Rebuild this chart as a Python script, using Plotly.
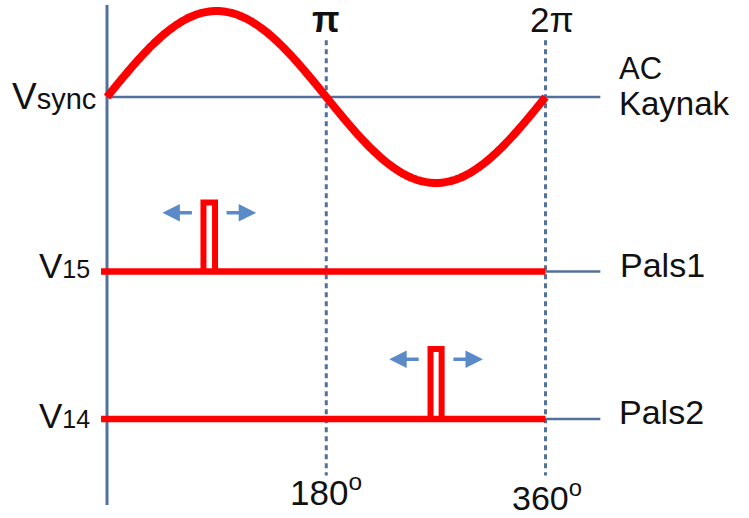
import numpy as np
import plotly.graph_objects as go

# ---- data (degrees / normalised volts) ----
sine_deg = np.arange(0, 361, 2)
sine_amp = 1.0
levels = {"Vsync": 0.0, "V15": -2.03, "V14": -3.744}
pulse_start = [79.2, 265.6]          # firing angles (deg)
pulse_end = [88.7, 274.7]
pulse_top = [-1.227, -2.93]
pulse_base = [levels["V15"], levels["V14"]]
arrow_gap = 13.0
arrow_len = 25.5
arrow_drop = 0.12
dash_angles = [180, 360]
top_labels = ["π", "2π"]
bottom_labels = ["180<sup>o</sup>", "360<sup>o</sup>"]
right_labels = ["Pals1", "Pals2"]

RED = "#ff0000"
AXIS = "#52719a"
ARROW = "#5b8ac8"
FONT = "Liberation Sans, Arial, sans-serif"

fig = go.Figure()

# vertical axis
fig.add_trace(go.Scatter(x=[0, 0], y=[1.07, -4.744], mode="lines",
                         line=dict(color=AXIS, width=3), hoverinfo="skip"))
# dashed verticals
for a in dash_angles:
    fig.add_trace(go.Scatter(x=[a, a], y=[0.66, -4.4], mode="lines",
                             line=dict(color=AXIS, width=3, dash="5px,4px"),
                             hoverinfo="skip"))
# horizontal blue lines (Vsync full, pulse lines extension)
fig.add_trace(go.Scatter(x=[0, 405], y=[levels["Vsync"]] * 2, mode="lines",
                         line=dict(color=AXIS, width=2.5), hoverinfo="skip"))
for b in pulse_base:
    fig.add_trace(go.Scatter(x=[360, 405], y=[b, b], mode="lines",
                             line=dict(color=AXIS, width=2.5), hoverinfo="skip"))
# sine
fig.add_trace(go.Scatter(x=sine_deg, y=sine_amp * np.sin(np.deg2rad(sine_deg)),
                         mode="lines", line=dict(color=RED, width=8, shape="spline"),
                         hoverinfo="skip"))
# pulse baselines and pulses
for s, e, t, b in zip(pulse_start, pulse_end, pulse_top, pulse_base):
    fig.add_trace(go.Scatter(x=[-4.9, 360], y=[b, b], mode="lines",
                             line=dict(color=RED, width=6.5), hoverinfo="skip"))
    fig.add_trace(go.Scatter(x=[s, s, e, e], y=[b, t, t, b], mode="lines",
                             line=dict(color=RED, width=6), hoverinfo="skip"))
    c = (s + e) / 2
    ay = t - arrow_drop
    for sign in (-1, 1):
        fig.add_annotation(x=c + sign * (arrow_gap + arrow_len), y=ay,
                           ax=c + sign * arrow_gap, ay=ay, axref="x", ayref="y",
                           xref="x", yref="y", text="", showarrow=True,
                           arrowhead=2, arrowwidth=3.5, arrowsize=1.0,
                           arrowcolor=ARROW)

def label(x, y, text, size, xanchor="center", bold=False, yshift=0):
    fig.add_annotation(x=x, y=y, xref="x", yref="y", text=text, showarrow=False,
                       xanchor=xanchor, yanchor="middle", yshift=yshift,
                       font=dict(family=FONT, size=size, color="#111111",
                                 weight="bold" if bold else "normal"))

# left labels
label(-7.4, levels["Vsync"], 'V<span style="font-size:29px">sync</span>', 37, "right", yshift=1)
label(-12.3, levels["V15"], 'V<span style="font-size:25px">15</span>', 35, "right", yshift=6)
label(-12.3, levels["V14"], 'V<span style="font-size:25px">14</span>', 35, "right", yshift=4)
# top labels
label(180, 0.907, top_labels[0], 36, bold=True)
label(365.3, 0.901, top_labels[1], 35)
# bottom labels
label(179.8, -4.564, bottom_labels[0], 35)
label(361.6, -4.692, bottom_labels[1], 34, yshift=5)
# right labels
label(418.7, 0.331, "AC", 31, "left")
label(418.7, -0.081, "Kaynak", 33, "left")
label(419.5, -1.948, right_labels[0], 34, "left")
label(418.7, -3.663, right_labels[1], 34, "left")

fig.update_layout(
    width=749, height=518, margin=dict(l=0, r=0, t=0, b=0),
    paper_bgcolor="white", plot_bgcolor="white", showlegend=False,
    xaxis=dict(range=[-87.84, 527.05], visible=False, fixedrange=True),
    yaxis=dict(range=[-4.895, 1.128], visible=False, fixedrange=True),
)
fig.write_html(
    "out.html",
    config={"displayModeBar": False, "responsive": False},
    post_script="document.body.style.margin='0';document.body.style.overflow='hidden';",
)
